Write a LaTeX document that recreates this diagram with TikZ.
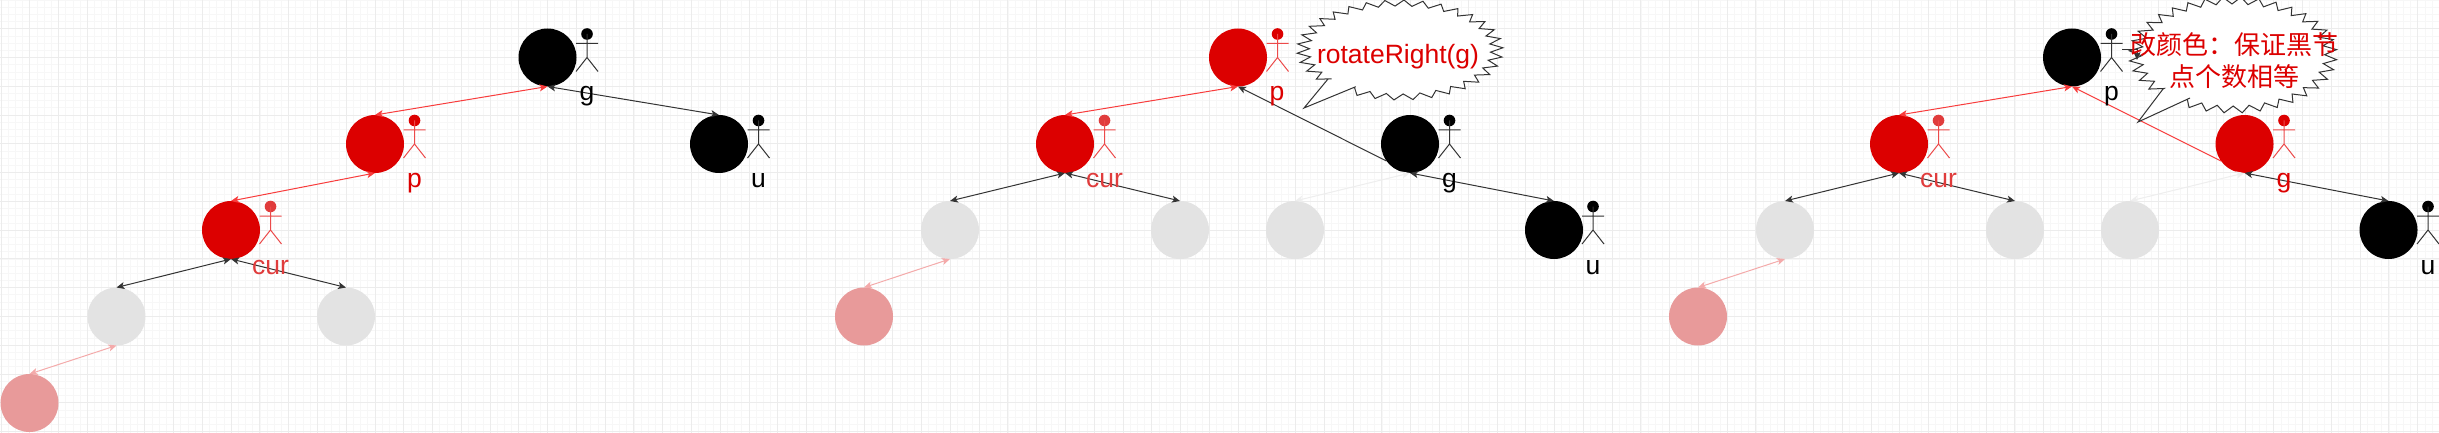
\documentclass[tikz,border=0pt]{standalone}
\usepackage{fontspec}
\setmainfont{Liberation Sans}
\newfontfamily\cjkfont{Noto Sans CJK SC}
\usetikzlibrary{arrows.meta}
\definecolor{rbred}{HTML}{DC0000}
\definecolor{rbpink}{HTML}{E89A9A}
\definecolor{rbgray}{HTML}{E3E3E3}
\definecolor{edgered}{HTML}{F83C3C}
\definecolor{edgedark}{HTML}{333333}
\definecolor{edgepink}{HTML}{F4AAAA}
\definecolor{edgepale}{HTML}{EEEEEE}
\definecolor{curred}{HTML}{E03C3C}
\definecolor{actline}{HTML}{EC4A4A}
\definecolor{gridmajor}{HTML}{ECECEC}
\definecolor{gridminor}{HTML}{F7F7F7}
\tikzset{
  rb/.style={circle,minimum size=58pt,inner sep=0pt,outer sep=0pt},
  rbblack/.style={rb,fill=black},
  rbredn/.style={rb,fill=rbred},
  rbgrayn/.style={rb,fill=rbgray},
  rbpinkn/.style={rb,fill=rbpink},
  twoway/.style={line width=1pt,{Stealth[length=8pt,width=7pt,inset=2pt]}-{Stealth[length=8pt,width=7pt,inset=2pt]}},
  tagtext/.style={font=\fontsize{26.5}{30}\selectfont,anchor=base,inner sep=0pt},
  burst/.style={fill=white,draw=edgedark,line width=1pt,line join=miter,miter limit=10},
  pics/actorfig/.style 2 args={code={
    \fill[#1] (0,-23.5) circle[radius=5.8pt];
    \draw[#2,line width=1pt] (0,-23.5) -- (0,0) (-11,-14) -- (11,-14) (-11,14) -- (0,0) -- (11,14);
  }},
}
% cx cy a b t0 span pointcount
\newcommand{\zigzag}[7]{%
  \foreach \i in {0,...,#7}
    { -- ({#1+(0.94-0.06*cos(180*\i))*#3*cos(#5-\i*(#6/#7))},{#2+(0.94-0.06*cos(180*\i))*#4*sin(#5-\i*(#6/#7))}) }
}
\begin{document}
\begin{tikzpicture}[x=1pt,y=-1pt]
\useasboundingbox (0,0) rectangle (2439,433);
\fill[white] (0,0) rectangle (2439,433);
\begin{scope}
\clip (0,0) rectangle (2439,433);
\foreach \k in {0,...,339} {\draw[gridminor,line width=.8pt] ({1+\k*7.1925},0) -- ({1+\k*7.1925},433);}
\foreach \k in {0,...,60} {\draw[gridminor,line width=.8pt] (0,{\k*7.1925}) -- (2439,{\k*7.1925});}
\foreach \k in {0,...,84} {\draw[gridmajor,line width=1pt] ({1+\k*28.77},0) -- ({1+\k*28.77},433);}
\foreach \k in {0,...,15} {\draw[gridmajor,line width=1pt] (0,{\k*28.77}) -- (2439,{\k*28.77});}
\end{scope}

% panel 1
\node[rbblack] (g1) at (547.5,57.5) {};
\node[rbredn] (p1) at (375,144) {};
\node[rbblack] (u1) at (719,144) {};
\node[rbredn] (c1) at (231,230) {};
\node[rbgrayn] (l1) at (116.5,316.5) {};
\node[rbgrayn] (r1) at (346,316.5) {};
\node[rbpinkn] (q1) at (29.5,403) {};
% panel 2
\node[rbredn] (p2) at (1238,57.5) {};
\node[rbredn] (c2) at (1065,144) {};
\node[rbblack] (g2) at (1410,144) {};
\node[rbgrayn] (l2) at (950,230) {};
\node[rbgrayn] (r2) at (1180,230) {};
\node[rbgrayn] (s2) at (1295,230) {};
\node[rbblack] (u2) at (1554,230) {};
\node[rbpinkn] (q2) at (864,316.5) {};
% panel 3
\node[rbblack] (p3) at (2072,57.5) {};
\node[rbredn] (c3) at (1899,144) {};
\node[rbredn] (g3) at (2244.5,144) {};
\node[rbgrayn] (l3) at (1785,230) {};
\node[rbgrayn] (r3) at (2015,230) {};
\node[rbgrayn] (s3) at (2130,230) {};
\node[rbblack] (u3) at (2388.5,230) {};
\node[rbpinkn] (q3) at (1698,316.5) {};

% edges
\draw[twoway,edgered] (g1.south) -- (p1.north);
\draw[twoway,edgedark] (g1.south) -- (u1.north);
\draw[twoway,edgered] (p1.south) -- (c1.north);
\draw[twoway,edgedark] (c1.south) -- (l1.north);
\draw[twoway,edgedark] (c1.south) -- (r1.north);
\draw[twoway,edgepink] (l1.south) -- (q1.north);

\draw[twoway,edgered] (p2.south) -- (c2.north);
\draw[line width=1pt,edgedark,-{Stealth[length=8pt,width=7pt,inset=2pt]}] (g2.216) -- (p2.south);
\draw[twoway,edgedark] (c2.south) -- (l2.north);
\draw[twoway,edgedark] (c2.south) -- (r2.north);
\draw[twoway,edgepale] (g2.south) -- (s2.north);
\draw[twoway,edgedark] (g2.south) -- (u2.north);
\draw[twoway,edgepink] (l2.south) -- (q2.north);

\draw[twoway,edgered] (p3.south) -- (c3.north);
\draw[line width=1pt,edgered,-{Stealth[length=8pt,width=7pt,inset=2pt]}] (g3.216) -- (p3.south);
\draw[twoway,edgedark] (c3.south) -- (l3.north);
\draw[twoway,edgedark] (c3.south) -- (r3.north);
\draw[twoway,edgepale] (g3.south) -- (s3.north);
\draw[twoway,edgedark] (g3.south) -- (u3.north);
\draw[twoway,edgepink] (l3.south) -- (q3.north);

% actors and their labels
\pic at (587,57.5) {actorfig={black}{edgedark}};
\pic at (414.5,144) {actorfig={rbred}{actline}};
\pic at (758.5,144) {actorfig={black}{edgedark}};
\pic at (270.5,230) {actorfig={curred}{actline}};
\node[tagtext,text=black] (tg1) at (587,100.5) {g};
\node[tagtext,text=rbred] (tp1) at (414.5,187) {p};
\node[tagtext,text=black] (tu1) at (758.5,187) {u};
\node[tagtext,text=curred] (tc1) at (270.5,274) {cur};

\pic at (1277.5,57.5) {actorfig={rbred}{actline}};
\pic at (1104.5,144) {actorfig={curred}{actline}};
\pic at (1449.5,144) {actorfig={black}{edgedark}};
\pic at (1593,230) {actorfig={black}{edgedark}};
\node[tagtext,text=rbred] (tp2) at (1277,100.5) {p};
\node[tagtext,text=curred] (tc2) at (1104.5,187) {cur};
\node[tagtext,text=black] (tg2) at (1449.5,187) {g};
\node[tagtext,text=black] (tu2) at (1593,274) {u};

\pic at (2111.5,57.5) {actorfig={black}{edgedark}};
\pic at (1938.5,144) {actorfig={curred}{actline}};
\pic at (2284,144) {actorfig={rbred}{actline}};
\pic at (2428,230) {actorfig={black}{edgedark}};
\node[tagtext,text=black] (tp3) at (2111.5,100.5) {p};
\node[tagtext,text=curred] (tc3) at (1938.5,187) {cur};
\node[tagtext,text=rbred] (tg3) at (2284,187) {g};
\node[tagtext,text=black] (tu3) at (2428,274) {u};

% speech bursts
\draw[burst] (1304,108) -- (1355,87) \zigzag{1400}{50}{103}{50}{120}{341}{64} -- (1328,79) -- cycle;
\node[tagtext,text=rbred] (say2) at (1398,64) {rotateRight(g)};

\draw[burst] (2138,122) -- (2190,98) \zigzag{2233}{55}{104}{58}{120}{341}{68} -- (2163,89) -- cycle;
\coordinate (stub) at (2122,50);
\coordinate (stubend) at (2137,60);
\draw[line width=1pt,edgedark,-{Stealth[length=8pt,width=7pt,inset=2pt]}] (stub) -| (stubend);
\node[text=rbred,inner sep=0pt,align=center,font=\cjkfont\fontsize{26}{32}\selectfont] (say3) at (2234.5,61) {改颜色：保证黑节\\点个数相等};
\end{tikzpicture}
\end{document}
